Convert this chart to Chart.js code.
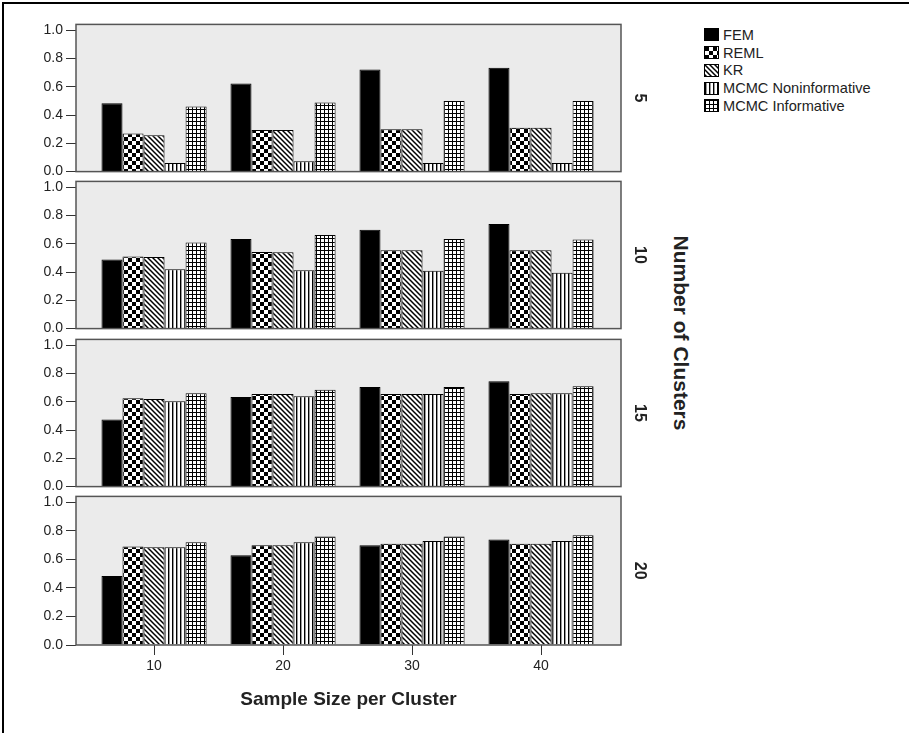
<!DOCTYPE html>
<html>
<head>
<meta charset="utf-8">
<script src="https://cdn.jsdelivr.net/npm/chart.js@4.4.1/dist/chart.umd.min.js"></script>
<style>
  body { margin: 0; background: #fff; font-family: "Liberation Sans", Arial, sans-serif; }
  #frame { position: absolute; left: 2px; top: 2px; width: 907px; height: 731px;
           border-top: 2px solid #000; border-left: 2px solid #000; box-sizing: border-box; }
  canvas { position: absolute; left: 0; }
  #legend { position: absolute; left: 704px; top: 26px; color: #222; font-size: 14.6px; }
  #legend div { display: flex; align-items: center; height: 17.75px; white-space: nowrap; }
  #legend span.box { width: 15px; height: 13px; border: 1px solid #000; box-sizing: border-box;
                     margin-right: 4px; background-repeat: repeat; }
  #ytitle { position: absolute; left: 681px; top: 333px; transform: translate(-50%, -50%) rotate(90deg);
            font-weight: bold; font-size: 21px; color: #222; white-space: nowrap; }
</style>
</head>
<body>
<div id="frame"></div>
<div id="legend"></div>
<div id="ytitle">Number of Clusters</div>
<script>
// x categories and panel labels
const sampleSizes = [10, 20, 30, 40];
const clusterCounts = ['5', '10', '15', '20'];
const seriesNames = ['FEM', 'REML', 'KR', 'MCMC Noninformative', 'MCMC Informative'];
const yTicks = [0, 0.2, 0.4, 0.6, 0.8, 1.0];

// one row per panel (5, 10, 15, 20 clusters), one value per sample size
const femValues = [
  [0.484, 0.623, 0.722, 0.735],
  [0.49, 0.634, 0.70, 0.74],
  [0.475, 0.635, 0.705, 0.745],
  [0.483, 0.63, 0.70, 0.74]
];
const remlValues = [
  [0.269, 0.294, 0.30, 0.31],
  [0.51, 0.542, 0.555, 0.555],
  [0.625, 0.655, 0.655, 0.655],
  [0.69, 0.70, 0.71, 0.71]
];
const krValues = [
  [0.257, 0.294, 0.30, 0.31],
  [0.507, 0.54, 0.555, 0.555],
  [0.62, 0.655, 0.655, 0.66],
  [0.685, 0.70, 0.71, 0.71]
];
const mcmcNonValues = [
  [0.06, 0.074, 0.06, 0.06],
  [0.42, 0.413, 0.41, 0.395],
  [0.605, 0.64, 0.655, 0.66],
  [0.685, 0.72, 0.73, 0.73]
];
const mcmcInfValues = [
  [0.46, 0.49, 0.50, 0.50],
  [0.61, 0.662, 0.635, 0.63],
  [0.66, 0.685, 0.705, 0.71],
  [0.72, 0.76, 0.76, 0.77]
];
const seriesValues = [femValues, remlValues, krValues, mcmcNonValues, mcmcInfValues];

const panelTops = [23, 180, 338, 495];

Chart.defaults.font.family = '"Liberation Sans", Arial, sans-serif';

// hatch fills
function makeTile(size, draw) {
  const c = document.createElement('canvas');
  c.width = c.height = size;
  const g = c.getContext('2d');
  g.fillStyle = '#fff';
  g.fillRect(0, 0, size, size);
  g.fillStyle = '#000';
  g.strokeStyle = '#000';
  draw(g, size);
  return c;
}
const tiles = [
  makeTile(4, (g, s) => g.fillRect(0, 0, s, s)),
  makeTile(8, g => { g.fillRect(0, 0, 4, 4); g.fillRect(4, 4, 4, 4); }),
  makeTile(5, (g, s) => {
    g.lineWidth = 1.5;
    g.beginPath();
    g.moveTo(-1, -1); g.lineTo(s + 1, s + 1);
    g.moveTo(-1, s - 1); g.lineTo(1, s + 1);
    g.moveTo(s - 1, -1); g.lineTo(s + 1, 1);
    g.stroke();
  }),
  makeTile(4, g => { g.fillRect(0, 0, 1, 4); g.fillStyle = '#999'; g.fillRect(1, 0, 1, 4); }),
  makeTile(4, g => { g.fillRect(0, 0, 4, 1); g.fillRect(0, 0, 1, 4); })
];
const fills = tiles.map(t => document.createElement('canvas').getContext('2d').createPattern(t, 'repeat'));

// legend
const legend = document.getElementById('legend');
seriesNames.forEach((name, s) => {
  const row = document.createElement('div');
  const box = document.createElement('span');
  box.className = 'box';
  box.style.backgroundImage = 'url(' + tiles[s].toDataURL() + ')';
  row.appendChild(box);
  row.appendChild(document.createTextNode(name));
  legend.appendChild(row);
});

const panelFrame = {
  id: 'panelFrame',
  beforeDraw(chart) {
    const {ctx, chartArea: a} = chart;
    ctx.save();
    ctx.fillStyle = '#ebebeb';
    ctx.fillRect(a.left, a.top, a.width, a.height);
    ctx.restore();
  },
  afterDatasetsDraw(chart) {
    const {ctx, chartArea: a} = chart;
    ctx.save();
    ctx.strokeStyle = '#555';
    ctx.lineWidth = 1.5;
    ctx.strokeRect(a.left, a.top, a.width, a.height);
    ctx.restore();
  }
};

clusterCounts.forEach((label, i) => {
  const last = i === clusterCounts.length - 1;
  const top = panelTops[i] - 10;
  const canvas = document.createElement('canvas');
  canvas.width = 700;
  canvas.height = last ? 733 - top : 170;
  canvas.style.top = top + 'px';
  document.body.appendChild(canvas);

  new Chart(canvas, {
    type: 'bar',
    data: {
      datasets: seriesNames.map((name, s) => ({
        label: name,
        data: sampleSizes.map((x, j) => ({x: x, y: seriesValues[s][i][j]})),
        backgroundColor: fills[s],
        borderColor: '#000',
        borderWidth: 1,
        categoryPercentage: 0.815,
        barPercentage: 1
      }))
    },
    options: {
      responsive: false,
      animation: false,
      events: [],
      layout: {padding: {top: 10, bottom: last ? 0 : 10, left: 0, right: 0}},
      plugins: {legend: {display: false}, tooltip: {enabled: false}},
      scales: {
        x: {
          type: 'linear',
          display: last,
          offset: false,
          min: 3.95,
          max: 46.2,
          afterBuildTicks: s => { s.ticks = sampleSizes.map(v => ({value: v})); },
          grid: {display: true, drawOnChartArea: false, drawTicks: true, tickLength: 10, color: '#333', offset: false},
          border: {display: false},
          ticks: {padding: 3, color: '#222', font: {size: 14}, callback: v => String(v)},
          title: {display: true, text: 'Sample Size per Cluster', color: '#222',
                  font: {size: 19, weight: 'bold'}, padding: {top: 0, bottom: 22}},
          afterFit: s => { if (last) s.height = 88; }
        },
        y: {
          position: 'left',
          min: 0,
          max: 1.042,
          afterBuildTicks: s => { s.ticks = yTicks.map(v => ({value: v})); },
          grid: {display: true, drawOnChartArea: false, drawTicks: true, tickLength: 10, color: '#333'},
          border: {display: false},
          ticks: {padding: 3, color: '#222', font: {size: 14}, callback: v => Number(v).toFixed(1)},
          afterFit: s => { s.width = 76; }
        },
        y1: {
          type: 'linear',
          position: 'right',
          ticks: {display: false},
          grid: {display: false},
          border: {display: false},
          title: {display: true, text: label, color: '#222',
                  font: {size: 16, weight: 'bold'}, padding: {top: 51, bottom: 0}},
          afterFit: s => { s.width = 79; }
        }
      }
    },
    plugins: [panelFrame]
  });
});
</script>
</body>
</html>
